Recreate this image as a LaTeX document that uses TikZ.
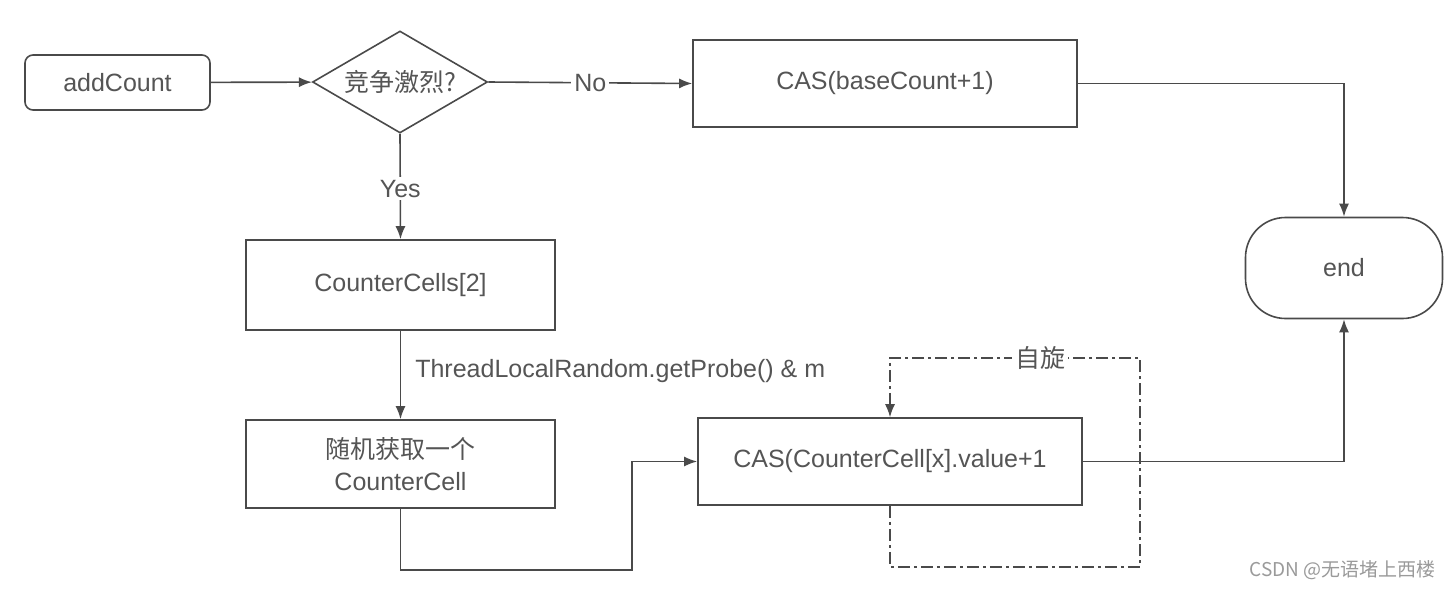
\documentclass[tikz,border=0pt]{standalone}
\usepackage{fontspec}
\setmainfont{Liberation Sans}
\newfontfamily\cjk{Noto Sans CJK SC}
\usetikzlibrary{arrows.meta,shapes.geometric}
\definecolor{lineC}{HTML}{4A4A4A}
\definecolor{txtC}{HTML}{555555}
\definecolor{wmC}{HTML}{9A9A9A}
\begin{document}
\begin{tikzpicture}[x=1pt,y=-1pt,
  every node/.style={text=txtC, font=\fontsize{25}{30}\selectfont, inner sep=0pt},
  stepbox/.style={draw=lineC, line width=1.6pt, rectangle, align=center},
  conn/.style={draw=lineC, line width=1.6pt},
  arr/.style={conn, -{Latex[length=13pt,width=10pt]}},
  dd/.style={conn, line width=1.4pt, dash pattern=on 12pt off 4pt on 3pt off 4pt},
  lbl/.style={fill=white, inner sep=3pt}]
\useasboundingbox (0,0) rectangle (1452,589);
\fill[white] (0,0) rectangle (1452,589);

\node[stepbox, rounded corners=8pt, minimum width=185pt, minimum height=55pt] (add) at (117.5,82.5) {addCount};
\node[draw=lineC, line width=1.6pt, diamond, aspect=1.72, minimum width=175pt, minimum height=102pt] (dia) at (400,82) {\cjk 竞争激烈?};
\node[stepbox, minimum width=384pt, minimum height=87pt] (cas1) at (885,83.5) {CAS(baseCount+1)};
\node[stepbox, rounded corners=40pt, minimum width=197pt, minimum height=101pt] (end) at (1344,268) {end};
\node[stepbox, minimum width=309pt, minimum height=90pt] (cc2) at (400.5,285) {CounterCells[2]};
\node[stepbox, minimum width=309pt, minimum height=88pt] (rand) at (400.5,464) {{\cjk 随机获取一个}\\[2pt]CounterCell};
\node[stepbox, minimum width=384pt, minimum height=87pt] (cas2) at (890,461.5) {CAS(CounterCell[x].value+1};

\coordinate (k1) at (632,570);
\coordinate (d1) at (1140,567);
\coordinate (d2) at (1140,358);

\draw[arr] (add) -- (dia);
\draw[arr] (dia.east) -- node[lbl]{No} (cas1.west);
\draw[arr] (cas1.east) -| (end.north);
\draw[arr] (dia.south) -- node[lbl, pos=0.52]{Yes} (cc2.north);
\draw[arr] (cc2.south) -- node[anchor=west, xshift=14pt, yshift=4pt]{ThreadLocalRandom.getProbe() \& m} (rand.north);
\draw[arr] (rand.south) |- (k1) |- (cas2.west);
\draw[dd, -{Latex[length=13pt,width=10pt]}] (cas2.south) |- (d1) -- (d2) -| node[lbl, pos=0.2]{\cjk 自旋} (cas2.north);
\draw[arr] (cas2.east) -| (end.south);

\node[text=wmC, font=\cjk\fontsize{19}{22}\selectfont, anchor=east] (wm) at (1436,570) {CSDN @无语堵上西楼};
\end{tikzpicture}
\end{document}
